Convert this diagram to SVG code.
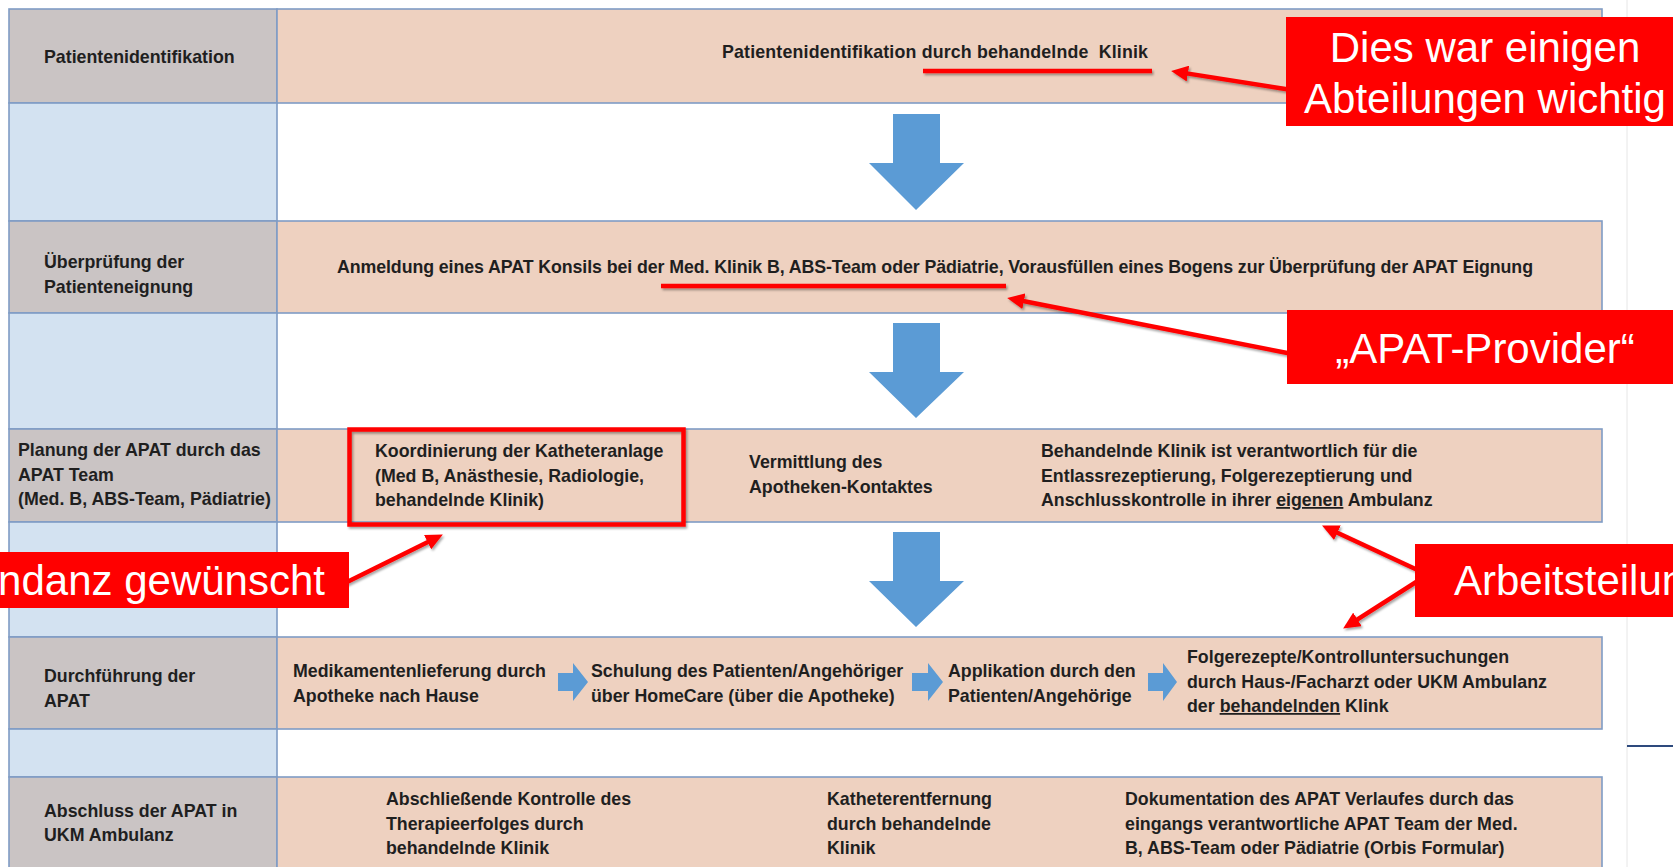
<svg xmlns="http://www.w3.org/2000/svg" width="1673" height="867" viewBox="0 0 1673 867">
<defs>
<style>
.lab{fill:#CAC4C4;stroke:#7F9CC5;stroke-width:1.6}
.gap{fill:#D3E2F1;stroke:#7F9CC5;stroke-width:1.6}
.box{fill:#EED1C0;stroke:#7F9CC5;stroke-width:1.6}
.t{font-family:"Liberation Sans",Arial,sans-serif;font-weight:bold;font-size:17.8px;fill:#1f1f1f}
.c{font-family:"Liberation Sans",Arial,sans-serif;font-size:42px;fill:#ffffff}
.callout{fill:#FF0000}
.red{stroke:#FF0000;stroke-width:4.5;fill:none}
.blue{fill:#5B9BD5}
</style>
<marker id="ah" markerUnits="userSpaceOnUse" markerWidth="18" markerHeight="16" refX="6" refY="8" orient="auto"><path d="M0,0 L17,8 L0,16 z" fill="#FF0000"/></marker>
<filter id="sh" filterUnits="userSpaceOnUse" x="0" y="0" width="1673" height="867"><feDropShadow dx="1.5" dy="2" stdDeviation="1.2" flood-color="#000" flood-opacity="0.35"/></filter>
</defs>
<rect x="0" y="0" width="1673" height="867" fill="#ffffff"/>
<line x1="1627" y1="0" x2="1627" y2="867" stroke="#E6E6E6" stroke-width="1"/>
<line x1="1627" y1="746" x2="1673" y2="746" stroke="#2E4A7D" stroke-width="2"/>

<g id="row1">
<rect class="lab" x="9" y="9" width="268" height="94"/>
<rect class="box" x="277" y="9" width="1325" height="94"/>
<text class="t" x="44" y="63">Patientenidentifikation</text>
<text class="t" x="722" y="58" xml:space="preserve" textLength="426" lengthAdjust="spacing">Patientenidentifikation durch behandelnde  Klinik</text>
</g>
<g id="gap1"><rect class="gap" x="9" y="103" width="268" height="118"/></g>
<g id="row2">
<rect class="lab" x="9" y="221" width="268" height="92"/>
<rect class="box" x="277" y="221" width="1325" height="92"/>
<text class="t" x="44" y="268">Überprüfung der</text>
<text class="t" x="44" y="293">Patienteneignung</text>
<text class="t" x="337" y="273" textLength="1196" lengthAdjust="spacing">Anmeldung eines APAT Konsils bei der Med. Klinik B, ABS-Team oder Pädiatrie, Vorausfüllen eines Bogens zur Überprüfung der APAT Eignung</text>
</g>
<g id="gap2"><rect class="gap" x="9" y="313" width="268" height="116"/></g>
<g id="row3">
<rect class="lab" x="9" y="429" width="268" height="93"/>
<rect class="box" x="277" y="429" width="1325" height="93"/>
<text class="t" x="18" y="456">Planung der APAT durch das</text>
<text class="t" x="18" y="480.5">APAT Team</text>
<text class="t" x="18" y="505">(Med. B, ABS-Team, Pädiatrie)</text>
<text class="t" x="375" y="457">Koordinierung der Katheteranlage</text>
<text class="t" x="375" y="482">(Med B, Anästhesie, Radiologie,</text>
<text class="t" x="375" y="506">behandelnde Klinik)</text>
<text class="t" x="749" y="468">Vermittlung des</text>
<text class="t" x="749" y="493">Apotheken-Kontaktes</text>
<text class="t" x="1041" y="457">Behandelnde Klinik ist verantwortlich für die</text>
<text class="t" x="1041" y="481.5">Entlassrezeptierung, Folgerezeptierung und</text>
<text class="t" x="1041" y="506">Anschlusskontrolle in ihrer <tspan text-decoration="underline">eigenen</tspan> Ambulanz</text>
</g>
<g id="gap3"><rect class="gap" x="9" y="522" width="268" height="115"/></g>
<g id="row4">
<rect class="lab" x="9" y="637" width="268" height="92"/>
<rect class="box" x="277" y="637" width="1325" height="92"/>
<text class="t" x="44" y="682">Durchführung der</text>
<text class="t" x="44" y="707">APAT</text>
<text class="t" x="293" y="677">Medikamentenlieferung durch</text>
<text class="t" x="293" y="702">Apotheke nach Hause</text>
<text class="t" x="591" y="677">Schulung des Patienten/Angehöriger</text>
<text class="t" x="591" y="702">über HomeCare (über die Apotheke)</text>
<text class="t" x="948" y="677">Applikation durch den</text>
<text class="t" x="948" y="702">Patienten/Angehörige</text>
<text class="t" x="1187" y="663">Folgerezepte/Kontrolluntersuchungen</text>
<text class="t" x="1187" y="688">durch Haus-/Facharzt oder UKM Ambulanz</text>
<text class="t" x="1187" y="712">der <tspan text-decoration="underline">behandelnden</tspan> Klink</text>
</g>
<g id="gap4"><rect class="gap" x="9" y="729" width="268" height="48"/></g>
<g id="row5">
<rect class="lab" x="9" y="777" width="268" height="110"/>
<rect class="box" x="277" y="777" width="1325" height="110"/>
<text class="t" x="44" y="817">Abschluss der APAT in</text>
<text class="t" x="44" y="841">UKM Ambulanz</text>
<text class="t" x="386" y="805">Abschließende Kontrolle des</text>
<text class="t" x="386" y="830">Therapieerfolges durch</text>
<text class="t" x="386" y="854">behandelnde Klinik</text>
<text class="t" x="827" y="805">Katheterentfernung</text>
<text class="t" x="827" y="830">durch behandelnde</text>
<text class="t" x="827" y="854">Klinik</text>
<text class="t" x="1125" y="805">Dokumentation des APAT Verlaufes durch das</text>
<text class="t" x="1125" y="830">eingangs verantwortliche APAT Team der Med.</text>
<text class="t" x="1125" y="854">B, ABS-Team oder Pädiatrie (Orbis Formular)</text>
</g>

<g id="connectors">
<polygon class="blue" points="893,114 940,114 940,163 964,163 916,210 869,163 893,163"/>
<polygon class="blue" points="893,323 940,323 940,372 964,372 916,418 869,372 893,372"/>
<polygon class="blue" points="893,532 940,532 940,581 964,581 916,627 869,581 893,581"/>
<polygon class="blue" points="558,673 573,673 573,663 588,682 573,701 573,691 558,691"/>
<polygon class="blue" points="912,673 928,673 928,663 943,682 928,701 928,691 912,691"/>
<polygon class="blue" points="1148,673 1163,673 1163,663 1177,682 1163,701 1163,691 1148,691"/>
<g filter="url(#sh)">
<line class="red" x1="923" y1="71" x2="1152" y2="71"/>
<line class="red" x1="661" y1="286" x2="1006" y2="286"/>
<rect class="red" x="349.5" y="429.5" width="334" height="95" stroke-width="5"/>
<line class="red" x1="1295" y1="90.5" x2="1182" y2="72.6" marker-end="url(#ah)"/>
<line class="red" x1="1295" y1="354.5" x2="1018" y2="300" marker-end="url(#ah)"/>
<line class="red" x1="340" y1="585.5" x2="433" y2="539.5" marker-end="url(#ah)"/>
<line class="red" x1="1424" y1="573" x2="1332" y2="530.2" marker-end="url(#ah)"/>
<line class="red" x1="1424" y1="577" x2="1352.4" y2="622.6" marker-end="url(#ah)"/>
</g>
</g>

<g id="callout1">
<rect class="callout" x="1286" y="17" width="400" height="109"/>
<text class="c" x="1485" y="62" text-anchor="middle">Dies war einigen</text>
<text class="c" x="1485" y="113" text-anchor="middle">Abteilungen wichtig</text>
</g>
<g id="callout2">
<rect class="callout" x="1287" y="310" width="400" height="74"/>
<text class="c" x="1485" y="363" text-anchor="middle">„APAT-Provider“</text>
</g>
<g id="callout3">
<rect class="callout" x="-10" y="552" width="359" height="56"/>
<text class="c" x="325" y="595" text-anchor="end">ndanz gewünscht</text>
</g>
<g id="callout4">
<rect class="callout" x="1415" y="544" width="270" height="73"/>
<text class="c" x="1454" y="595">Arbeitsteilun</text>
</g>
</svg>
